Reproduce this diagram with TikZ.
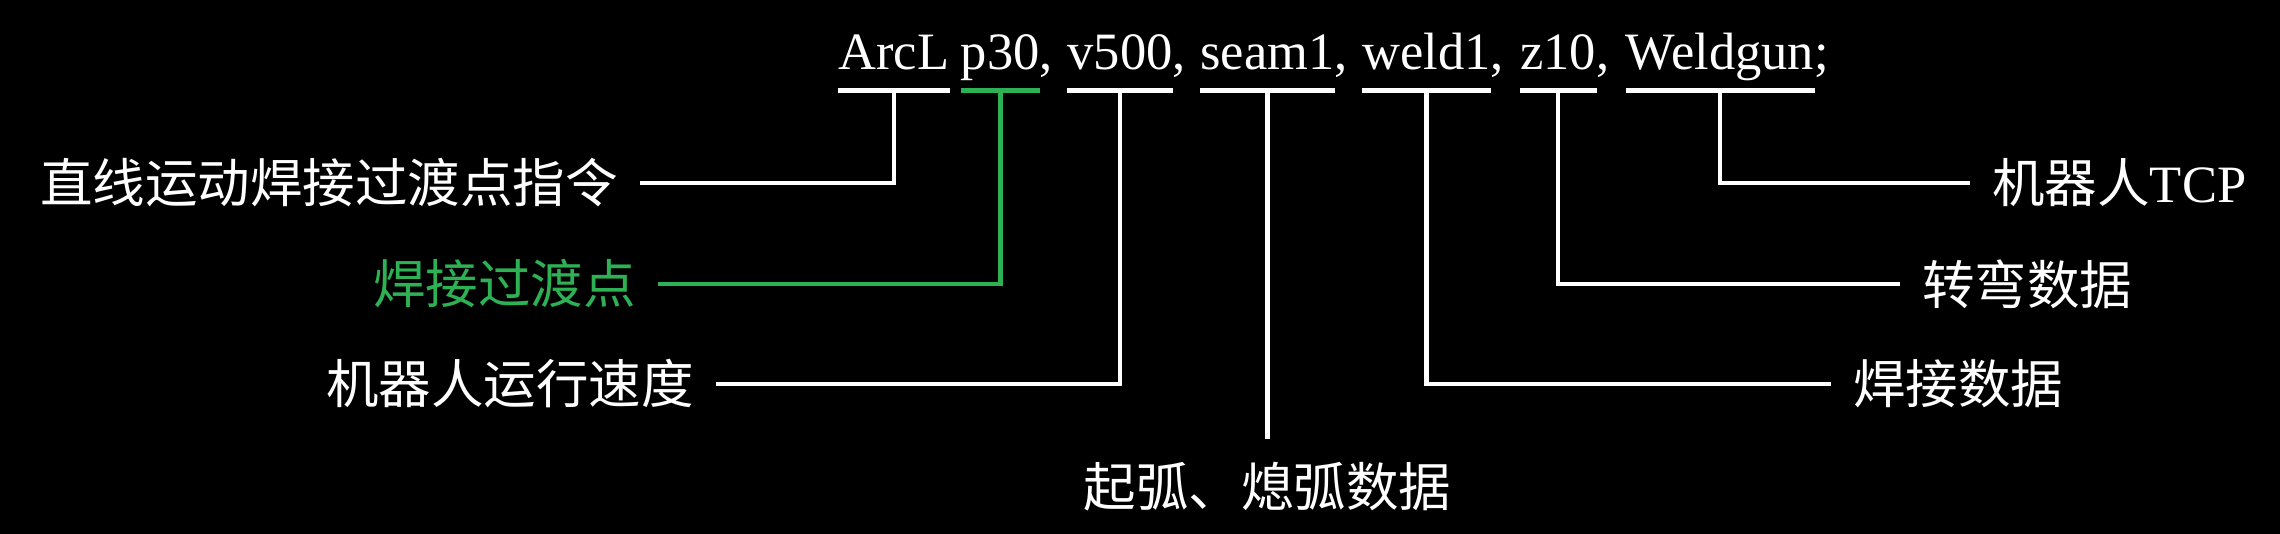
\documentclass[tikz,border=0pt]{standalone}
\usepackage{fontspec}
\setmainfont{Liberation Serif}
\newfontfamily\cjk{Noto Sans CJK SC}
\usetikzlibrary{positioning}
\definecolor{PointClr}{rgb}{0.18,0.69,0.33}
\newcommand\bigtxt{\fontsize{26.25}{30}\selectfont}

\begin{document}
\begin{tikzpicture}[x=0.5pt,y=-0.5pt,
  word/.style={font=\bigtxt,text=white,inner sep=0pt,text height=20pt,text depth=10pt},
  lbl/.style={font=\bigtxt\cjk,text=white,inner sep=11pt},
  bar/.style={white,line width=2.6pt},
  conn/.style={white,line width=2.2pt}]
\fill[black] (0,0) rectangle (2280,534);
\useasboundingbox (0,0) rectangle (2280,534);

\node[word,anchor=base west] (arcl) at (838,70) {ArcL};
\node[word,right=5.5pt of arcl] (p30) {p30\rlap{,}};
\node[word,right=13.5pt of p30] (v500) {v500\rlap{,}};
\node[word,right=13.5pt of v500] (seam1) {seam1\rlap{,}};
\node[word,right=13.5pt of seam1] (weld1) {weld1\rlap{,}};
\node[word,right=14.5pt of weld1] (z10) {z10\rlap{,}};
\node[word,right=14.5pt of z10] (gun) {Weldgun\rlap{;}};

\node[lbl,anchor=east] (cmd) at (640,183) {直线运动焊接过渡点指令};
\node[lbl,anchor=east,text=PointClr] (pt) at (658,284) {焊接过渡点};
\node[lbl,anchor=east] (speed) at (716,384) {机器人运行速度};
\node[lbl,below=174.5pt of seam1] (arc) {起弧、熄弧数据};
\node[lbl,anchor=west] (weld) at (1831,384) {焊接数据};
\node[lbl,anchor=west] (zone) at (1900,284) {转弯数据};
\node[lbl,anchor=west] (tcp) at (1970,183) {机器人\rmfamily TCP};

\foreach \w in {arcl,v500,seam1,weld1,z10,gun}
  \draw[bar] (\w.south west) -- (\w.south east);
\draw[bar,PointClr] (p30.south west) -- (p30.south east);

\draw[conn] (arcl.south) |- (cmd.east);
\draw[conn,PointClr] (p30.south) |- (pt.east);
\draw[conn] (v500.south) |- (speed.east);
\draw[conn] (seam1.south) -- (arc.north);
\draw[conn] (weld1.south) |- (weld.west);
\draw[conn] (z10.south) |- (zone.west);
\draw[conn] (gun.south) |- (tcp.west);
\end{tikzpicture}
\end{document}
